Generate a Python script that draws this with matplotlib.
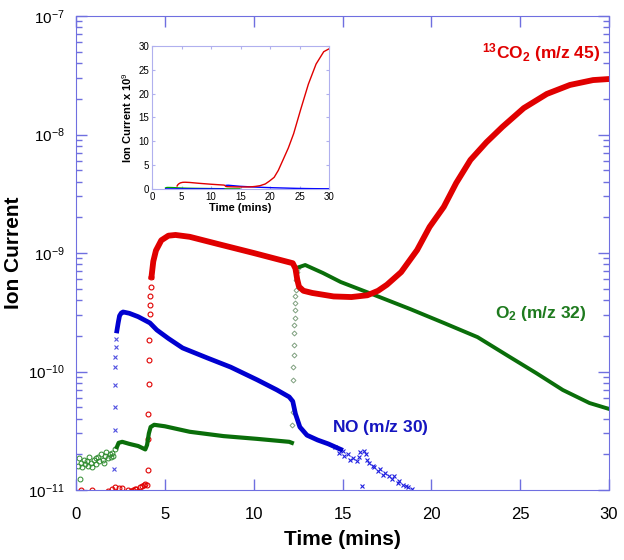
import matplotlib
matplotlib.use("Agg")
import matplotlib.pyplot as plt
from matplotlib.ticker import LogLocator, NullFormatter, MultipleLocator

plt.rcParams['font.family'] = ['Liberation Sans', 'DejaVu Sans']
plt.rcParams['mathtext.fontset'] = 'custom'
plt.rcParams['mathtext.rm'] = 'Liberation Sans'
plt.rcParams['mathtext.bf'] = 'Liberation Sans:bold'
plt.rcParams['mathtext.it'] = 'Liberation Sans:italic'

# 13CO2 (m/z 45)
co2_base_t = [0.3, 0.9, 1.8, 2.0, 2.2, 2.4, 2.6, 2.9, 3.1, 3.2, 3.3, 3.4, 3.5, 3.6, 3.7, 3.8, 3.9, 4.0]
co2_base = [1.0e-11, 1.0e-11, 0.98e-11, 1.02e-11, 1.05e-11, 1.03e-11, 1.04e-11, 1.0e-11, 0.99e-11,
            1.0e-11, 1.01e-11, 1.02e-11, 0.98e-11, 1.05e-11, 1.08e-11, 1.1e-11, 1.12e-11, 1.1e-11]
co2_jump_t = [4.05, 4.07, 4.08, 4.10, 4.12, 4.13, 4.15, 4.17, 4.18, 4.20, 4.22]
co2_jump = [1.47e-11, 2.69e-11, 4.38e-11, 7.85e-11, 1.25e-10, 1.85e-10, 3.06e-10, 3.64e-10,
            4.34e-10, 5.17e-10, 6.27e-10]
co2_t = [4.25, 4.35, 4.5, 4.8, 5.2, 5.6, 6.4, 8.0, 10.0, 12.2, 12.35, 12.45, 12.55, 12.8, 13.3,
         14.5, 15.5, 16.4, 17.0, 17.5, 18.3, 19.2, 19.9, 20.7, 21.4, 22.2, 23.1, 24.0, 25.2, 26.5,
         27.8, 29.1, 30.0]
co2 = [6.3e-10, 8.5e-10, 1.05e-9, 1.28e-9, 1.4e-9, 1.42e-9, 1.37e-9, 1.19e-9, 1.0e-9, 8.2e-10,
       7.4e-10, 6.0e-10, 5.2e-10, 4.8e-10, 4.6e-10, 4.3e-10, 4.25e-10, 4.4e-10, 4.8e-10, 5.4e-10,
       6.9e-10, 1.06e-9, 1.66e-9, 2.45e-9, 3.9e-9, 6.1e-9, 8.6e-9, 1.16e-8, 1.67e-8, 2.2e-8,
       2.62e-8, 2.88e-8, 2.94e-8]

# NO (m/z 30)
no_jump_t = [2.15, 2.17, 2.18, 2.20, 2.21, 2.22, 2.23, 2.25]
no_jump = [1.5e-11, 3.2e-11, 5.0e-11, 7.7e-11, 1.09e-10, 1.33e-10, 1.61e-10, 1.88e-10]
no_t = [2.3, 2.38, 2.45, 2.55, 2.65, 3.0, 3.5, 4.16, 4.55, 5.2, 6.0, 7.4, 8.7, 10.2, 11.3, 12.0,
        12.2, 12.35, 12.6, 13.0, 13.6, 14.2, 14.9]
no = [2.2e-10, 2.6e-10, 2.95e-10, 3.12e-10, 3.18e-10, 3.1e-10, 2.9e-10, 2.57e-10, 2.24e-10,
      1.9e-10, 1.58e-10, 1.30e-10, 1.09e-10, 8.5e-11, 7.0e-11, 6.1e-11, 5.6e-11, 4.4e-11,
      3.4e-11, 2.9e-11, 2.64e-11, 2.45e-11, 2.2e-11]
no_tail_t = [14.6, 14.8, 15.0, 15.1, 15.3, 15.4, 15.6, 15.8, 15.9, 16.0, 16.1, 16.2, 16.3, 16.4,
             16.5, 16.7, 16.8, 17.0, 17.1, 17.3, 17.4, 17.6, 17.8, 17.9, 18.1, 18.2, 18.4, 18.6,
             18.7, 18.9]
no_tail = [2.3e-11, 2.05e-11, 2.15e-11, 1.95e-11, 2.0e-11, 1.8e-11, 1.85e-11, 1.75e-11, 1.9e-11,
           2.1e-11, 1.08e-11, 2.15e-11, 2.0e-11, 1.8e-11, 1.7e-11, 1.6e-11, 1.55e-11, 1.45e-11,
           1.5e-11, 1.35e-11, 1.4e-11, 1.3e-11, 1.25e-11, 1.3e-11, 1.15e-11, 1.2e-11, 1.1e-11,
           1.08e-11, 1.05e-11, 1.02e-11]

# O2 (m/z 32)
o2_noise_t = [0.1, 0.15, 0.2, 0.3, 0.35, 0.45, 0.5, 0.6, 0.7, 0.75, 0.85, 0.9, 1.0, 1.1, 1.15,
              1.25, 1.3, 1.4, 1.5, 1.55, 1.65, 1.7, 1.8, 1.9, 1.95, 2.05, 2.1, 2.2]
o2_noise = [1.6e-11, 1.85e-11, 1.25e-11, 1.7e-11, 1.55e-11, 1.8e-11, 1.65e-11, 1.75e-11, 1.6e-11,
            1.9e-11, 1.7e-11, 1.55e-11, 1.8e-11, 1.85e-11, 1.65e-11, 1.9e-11, 1.75e-11, 2.0e-11,
            1.8e-11, 1.7e-11, 1.95e-11, 2.1e-11, 1.85e-11, 2.0e-11, 1.9e-11, 2.05e-11, 1.95e-11,
            2.2e-11]
o2_early_t = [2.3, 2.4, 2.6, 3.0, 3.5, 3.9, 4.0, 4.1, 4.2, 4.4, 5.0, 6.4, 8.3, 10.2, 12.0, 12.15]
o2_early = [2.3e-11, 2.5e-11, 2.55e-11, 2.45e-11, 2.35e-11, 2.2e-11, 2.4e-11, 3.0e-11, 3.4e-11,
            3.55e-11, 3.45e-11, 3.1e-11, 2.85e-11, 2.7e-11, 2.55e-11, 2.5e-11]
o2_jump_t = [12.18, 12.2, 12.22, 12.24, 12.25, 12.26, 12.27, 12.28, 12.3, 12.31, 12.33, 12.35,
             12.37, 12.4, 12.43, 12.47]
o2_jump = [3.54e-11, 4.55e-11, 8.5e-11, 1.09e-10, 1.38e-10, 1.67e-10, 2.11e-10, 2.47e-10,
           2.83e-10, 3.3e-10, 3.79e-10, 4.34e-10, 4.87e-10, 5.92e-10, 6.92e-10, 7.5e-10]
o2_t = [12.55, 12.9, 13.9, 14.9, 16.5, 18.8, 20.7, 22.6, 24.4, 25.9, 27.4, 28.9, 30.0]
o2 = [7.6e-10, 7.92e-10, 6.78e-10, 5.69e-10, 4.6e-10, 3.37e-10, 2.57e-10, 1.95e-10, 1.33e-10,
      9.7e-11, 6.98e-11, 5.42e-11, 4.83e-11]

red = '#e00000'
blue = '#0000d0'
green = '#0a6e0a'
axcol = '#6f6fe0'

fig = plt.figure(figsize=(6.24, 5.6), dpi=100)
ax = fig.add_axes([0.1218, 0.125, 0.8542, 0.8464])

# sparse / noisy marker parts
ax.plot(o2_noise_t, o2_noise, 'o', ms=3.5, mfc='none', mec='#2e8b2e', mew=0.7)
ax.plot(co2_base_t, co2_base, 'o', ms=3.5, mfc='none', mec=red, mew=0.8)
ax.plot(co2_jump_t, co2_jump, 'o', ms=3.5, mfc='none', mec=red, mew=0.8)
ax.plot(no_jump_t, no_jump, 'x', ms=3.5, color='#5050e0', mew=0.8)
ax.plot(no_tail_t, no_tail, 'x', ms=3.5, color='#2020e0', mew=0.8)
ax.plot(o2_jump_t, o2_jump, 'D', ms=2.5, mfc='none', mec='#7fa07f', mew=0.7)

# dense parts
ax.plot(o2_early_t, o2_early, '-', color=green, lw=3.0)
ax.plot(no_t, no, '-', color=blue, lw=3.4)
ax.plot(o2_t, o2, '-', color=green, lw=2.8)
ax.plot(co2_t, co2, '-', color=red, lw=4.2)

ax.set_yscale('log')
ax.set_xlim(0, 30)
ax.set_ylim(1e-11, 1e-7)
ax.xaxis.set_major_locator(MultipleLocator(5))
ax.yaxis.set_major_locator(LogLocator(base=10, numticks=10))
ax.yaxis.set_minor_locator(LogLocator(base=10, subs=range(2, 10), numticks=20))
ax.yaxis.set_minor_formatter(NullFormatter())
ax.tick_params(axis='both', which='both', direction='in', color=axcol,
               top=True, right=True)
ax.tick_params(axis='x', labelsize=12, pad=12)
ax.tick_params(axis='y', labelsize=11, pad=8)
ax.tick_params(which='major', length=8, width=1)
ax.tick_params(which='minor', length=4, width=1)
ax.tick_params(axis='x', which='minor', top=False, bottom=False)
for s in ax.spines.values():
    s.set_color(axcol)
ax.set_xlabel('Time (mins)', fontsize=15, fontweight='bold', labelpad=6)
ax.set_ylabel('Ion Current', fontsize=15, fontweight='bold', labelpad=4)

ax.text(29.5, 4.9e-8, r'$\mathbf{{}^{13}CO_{2}\ (m/z\ 45)}$', color=red, fontsize=12.5,
        ha='right', va='center')
ax.text(28.75, 3.1e-10, r'$\mathbf{O_{2}\ (m/z\ 32)}$', color='#1e7a1e', fontsize=12.5,
        ha='right', va='center')
ax.text(14.4, 3.4e-11, r'$\mathbf{NO\ (m/z\ 30)}$', color='#1515c0', fontsize=12.5,
        ha='left', va='center')

# inset, linear scale x 10^9
ins = fig.add_axes([0.2436, 0.6625, 0.2837, 0.2554])
ins.plot(no_t, [v * 1e9 for v in no], color='#00a000', lw=1.0)
ins.plot(o2_t, [v * 1e9 for v in o2], color='#0000ff', lw=1.0)
ins.plot(o2_early_t, [v * 1e9 for v in o2_early], color='#0000ff', lw=1.0)
ins.plot(co2_t, [v * 1e9 for v in co2], color='#e00000', lw=1.0)
ins.set_xlim(0, 30)
ins.set_ylim(0, 30)
ins.xaxis.set_major_locator(MultipleLocator(5))
ins.yaxis.set_major_locator(MultipleLocator(5))
ins.tick_params(direction='in', length=2, color='#b0b0ee', labelsize=7, top=True, right=True,
                pad=2)
for s in ins.spines.values():
    s.set_color('#b0b0ee')
ins.set_xlabel('Time (mins)', fontsize=8, fontweight='bold', labelpad=1)
ins.set_ylabel(r'Ion Current x 10$^{9}$', fontsize=8, fontweight='bold', labelpad=3)

fig.savefig('out.png', dpi=100)
